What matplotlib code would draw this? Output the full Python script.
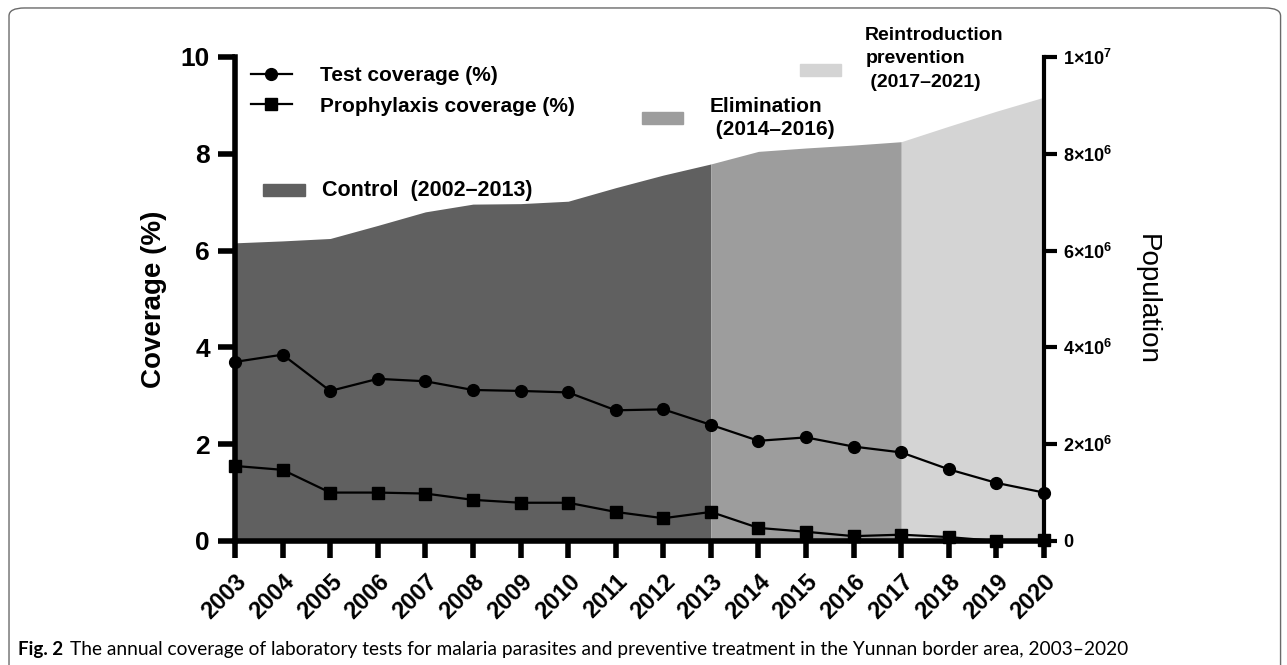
import matplotlib
matplotlib.use("Agg")
import matplotlib.pyplot as plt
from matplotlib.patches import Rectangle, FancyBboxPatch
import numpy as np

years = list(range(2003, 2021))
test_cov = [3.70, 3.85, 3.10, 3.35, 3.30, 3.12, 3.10, 3.07, 2.70, 2.72,
            2.40, 2.07, 2.14, 1.95, 1.83, 1.48, 1.20, 1.00]
prophy_cov = [1.55, 1.47, 1.00, 1.00, 0.98, 0.85, 0.79, 0.79, 0.60, 0.47,
              0.60, 0.27, 0.19, 0.10, 0.13, 0.08, 0.00, 0.02]
population = [6.16e6, 6.20e6, 6.25e6, 6.52e6, 6.80e6, 6.96e6, 6.97e6, 7.02e6, 7.30e6, 7.56e6,
              7.79e6, 8.05e6, 8.12e6, 8.18e6, 8.25e6, 8.57e6, 8.88e6, 9.17e6]
period_names = ["Control  (2002\u20132013)", "Elimination\n (2014\u20132016)",
                "Reintroduction\nprevention\n (2017\u20132021)"]
period_ends = [2013, 2017]
period_colors = ["#606060", "#9d9d9d", "#d4d4d4"]
pop_ticks = [0, 2e6, 4e6, 6e6, 8e6, 1e7]
pop_labels = ["0", r"$\mathbf{2{\times}10^{6}}$", r"$\mathbf{4{\times}10^{6}}$",
              r"$\mathbf{6{\times}10^{6}}$", r"$\mathbf{8{\times}10^{6}}$",
              r"$\mathbf{1{\times}10^{7}}$"]

plt.rcParams['font.family'] = ['Liberation Sans', 'DejaVu Sans']
plt.rcParams['mathtext.fontset'] = 'custom'
plt.rcParams['mathtext.bf'] = 'Liberation Sans:bold'
plt.rcParams['mathtext.rm'] = 'Liberation Sans'

fig = plt.figure(figsize=(12.87, 6.65), dpi=100)
ax = fig.add_axes([0.1826, 0.1865, 0.6286, 0.7278])
ax2 = ax.twinx()

# population areas on the right axis, drawn behind the coverage lines
yrs = np.array(years)
pop = np.array(population)
i1 = years.index(period_ends[0])
i2 = years.index(period_ends[1])
ax2.fill_between(yrs[:i1 + 1], pop[:i1 + 1], color=period_colors[0], lw=0)
ax2.fill_between(yrs[i1:i2 + 1], pop[i1:i2 + 1], color=period_colors[1], lw=0)
ax2.fill_between(yrs[i2:], pop[i2:], color=period_colors[2], lw=0)
ax2.set_ylim(0, 1e7)
ax.set_zorder(ax2.get_zorder() + 1)
ax.patch.set_visible(False)

ax.plot(years, test_cov, color="black", lw=1.6, marker="o", ms=8.5,
        label="Test coverage (%)", clip_on=False, zorder=5)
ax.plot(years, prophy_cov, color="black", lw=1.6, marker="s", ms=8.5,
        label="Prophylaxis coverage (%)", clip_on=False, zorder=5)

ax.set_xlim(2003, 2020)
ax.set_ylim(0, 10)
ax.set_xticks(years)
ax.set_xticklabels([str(y) for y in years], rotation=45, ha="right",
                   rotation_mode="anchor", fontsize=17, fontweight="bold")
ax.set_yticks([0, 2, 4, 6, 8, 10])
ax.set_yticklabels(["0", "2", "4", "6", "8", "10"], fontsize=19, fontweight="bold")
ax.set_ylabel("Coverage (%)", fontsize=20, fontweight="bold", labelpad=10)

ax2.set_yticks(pop_ticks)
ax2.set_yticklabels(pop_labels, fontsize=13, fontweight="bold")
ax2.set_ylabel("Population", fontsize=20, rotation=270, labelpad=34)

ax.spines["top"].set_visible(False)
ax2.spines["top"].set_visible(False)
ax.spines["right"].set_visible(False)
ax2.spines["left"].set_visible(False)
ax2.spines["bottom"].set_visible(False)
ax.spines["left"].set_linewidth(4)
ax.spines["bottom"].set_linewidth(4)
ax2.spines["right"].set_linewidth(3)
ax.tick_params(axis="x", length=12, width=4, pad=9)
ax.tick_params(axis="y", length=12, width=4, pad=6)
ax2.tick_params(axis="y", length=9, width=3, pad=5)

ax.legend(loc="upper left", bbox_to_anchor=(-0.004, 1.02), frameon=False,
          handlelength=2.0, handletextpad=1.35, labelspacing=0.55,
          prop={"weight": "bold", "size": 15})

# period keys
keys = [(0.035, 0.725, 0.1075, 15.5, 1.2, 0.0), (0.503, 0.874, 0.587, 15, 1.25, 0.0),
        (0.698, 0.973, 0.779, 14, 1.5, 0.023)]
for (px, py, tx, fs, lsp, dy), name, col in zip(keys, period_names, period_colors):
    ax.add_patch(Rectangle((px, py - 0.012), 0.051, 0.024, transform=ax.transAxes,
                           color=col, clip_on=False, zorder=6))
    ax.text(tx, py + dy, name, transform=ax.transAxes, fontsize=fs, fontweight="bold",
            va="center", ha="left", linespacing=lsp, clip_on=False)

# frame and caption
fig.patches.append(FancyBboxPatch((0.007, -0.05), 0.988, 1.038,
                                  boxstyle="round,pad=0,rounding_size=0.012",
                                  transform=fig.transFigure, fill=False,
                                  ec="#6a6a6a", lw=1.0))
fig.text(0.014, 0.0226, "Fig. 2", fontsize=13.5, fontweight="bold", va="center",
         family=["Lato", "DejaVu Sans"])
fig.text(0.0545, 0.0226,
         "The annual coverage of laboratory tests for malaria parasites and preventive "
         "treatment in the Yunnan border area, 2003\u20132020",
         fontsize=13.8, va="center", family=["Lato", "DejaVu Sans"])

fig.savefig("out.png", dpi=100)
